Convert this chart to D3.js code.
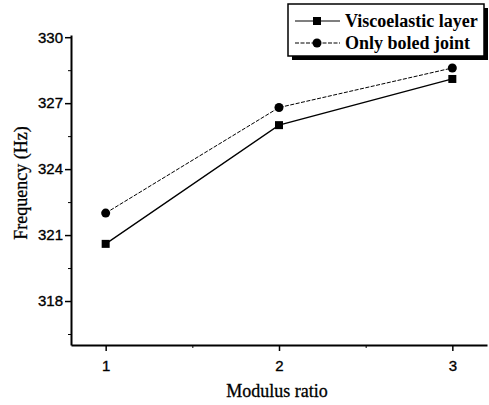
<!DOCTYPE html>
<html lang="en">
<head>
    <meta charset="UTF-8">
    <title>Frequency vs modulus ratio</title>
    <style>
        body { margin: 0; background: #fff; }
        .tick text { font-family: "Liberation Sans", Arial, sans-serif; font-size: 15px; fill: #000; stroke: #000; stroke-width: 0.35px; }
        .label { font-family: "Liberation Serif", "Times New Roman", serif; font-size: 18px; fill: #000; stroke: #000; stroke-width: 0.3px; }
        .legend text { font-family: "Liberation Serif", "Times New Roman", serif; font-size: 18px; font-weight: bold; fill: #000; }
    </style>
</head>
<body>
    <svg id="chart" width="489" height="405"></svg>
    <script src="https://cdn.jsdelivr.net/npm/d3@7"></script>
    <script>
        // data
        const modulusRatio = [1, 2, 3];
        const viscoelastic = [320.6, 326.0, 328.1];
        const boltedOnly = [322.0, 326.8, 328.6];
        const seriesNames = ["Viscoelastic layer", "Only boled joint"];
        const yTicks = [318, 321, 324, 327, 330];
        const yMinor = [316.5, 319.5, 322.5, 325.5, 328.5];
        const xTicks = [1, 2, 3];
        const xMinor = [1.5, 2.5];

        const svg = d3.select("#chart");
        const plotLeft = 71, plotRight = 487, plotTop = 35, plotBottom = 345;

        const x = d3.scaleLinear().domain([0.8, 3.2]).range([plotLeft, plotRight]);
        const y = d3.scaleLinear().domain([316, 330.1]).range([plotBottom, plotTop]);

        // axes
        const xAxis = svg.append("g").attr("transform", "translate(0," + plotBottom + ")")
            .call(d3.axisBottom(x).tickValues(xTicks).tickFormat(d3.format("d")).tickSize(6).tickSizeOuter(0));
        xAxis.select(".domain").attr("stroke-width", 2);
        xAxis.selectAll(".tick line").attr("stroke-width", 1.5);
        xAxis.selectAll(".tick text").attr("dy", "1.1em");
        svg.append("g").attr("transform", "translate(0," + plotBottom + ")")
            .call(d3.axisBottom(x).tickValues(xMinor).tickFormat("").tickSize(3).tickSizeOuter(0))
            .select(".domain").remove();

        const yAxis = svg.append("g").attr("transform", "translate(" + plotLeft + ",0)")
            .call(d3.axisLeft(y).tickValues(yTicks).tickFormat(d3.format("d")).tickSize(6).tickSizeOuter(0));
        yAxis.select(".domain").attr("stroke-width", 2);
        yAxis.selectAll(".tick line").attr("stroke-width", 1.5);
        yAxis.selectAll(".tick text").attr("x", -8);
        svg.append("g").attr("transform", "translate(" + plotLeft + ",0)")
            .call(d3.axisLeft(y).tickValues(yMinor).tickFormat("").tickSize(3).tickSizeOuter(0))
            .select(".domain").remove();

        // axis titles
        svg.append("text").attr("class", "label")
            .attr("x", 277).attr("y", 397).attr("text-anchor", "middle")
            .text("Modulus ratio");
        svg.append("text").attr("class", "label")
            .attr("transform", "translate(27,183) rotate(-90)").attr("text-anchor", "middle")
            .text("Frequency (Hz)");

        // lines
        const line = d3.line().x((d, i) => x(modulusRatio[i])).y(d => y(d));
        svg.append("path").datum(viscoelastic).attr("d", line)
            .attr("fill", "none").attr("stroke", "#000").attr("stroke-width", 1.3);
        svg.append("path").datum(boltedOnly).attr("d", line)
            .attr("fill", "none").attr("stroke", "#000").attr("stroke-width", 1)
            .attr("stroke-dasharray", "4,1.5");

        // markers
        svg.selectAll("rect.pt").data(viscoelastic).enter().append("rect")
            .attr("class", "pt")
            .attr("x", (d, i) => x(modulusRatio[i]) - 4)
            .attr("y", d => y(d) - 4)
            .attr("width", 8).attr("height", 8).attr("fill", "#000");
        svg.selectAll("circle.pt").data(boltedOnly).enter().append("circle")
            .attr("class", "pt")
            .attr("cx", (d, i) => x(modulusRatio[i]))
            .attr("cy", d => y(d))
            .attr("r", 4.5).attr("fill", "#000");

        // legend
        const legend = svg.append("g").attr("class", "legend");
        legend.append("rect").attr("x", 292).attr("y", 8).attr("width", 196).attr("height", 52).attr("fill", "#000");
        legend.append("rect").attr("x", 288).attr("y", 4).attr("width", 196).attr("height", 52)
            .attr("fill", "#fff").attr("stroke", "#000").attr("stroke-width", 1.5);

        const rows = [21, 43];
        rows.forEach((ry, i) => {
            legend.append("line").attr("x1", 295).attr("x2", 340).attr("y1", ry).attr("y2", ry)
                .attr("stroke", "#000").attr("stroke-width", 1.2)
                .attr("stroke-dasharray", i === 1 ? "4,1.5" : null);
            if (i === 0) {
                legend.append("rect").attr("x", 313).attr("y", ry - 4).attr("width", 8).attr("height", 8).attr("fill", "#000");
            } else {
                legend.append("circle").attr("cx", 317).attr("cy", ry).attr("r", 4.5).attr("fill", "#000");
            }
            legend.append("text").attr("x", 345).attr("y", ry + 6).text(seriesNames[i]);
        });
    </script>
</body>
</html>
